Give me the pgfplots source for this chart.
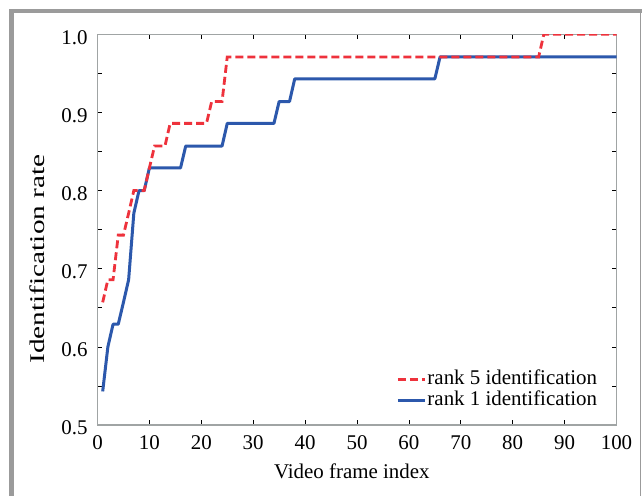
\documentclass[border=0pt]{standalone}
\usepackage{pgfplots}
\pgfplotsset{compat=1.18}
\usepackage{fontspec}
\setmainfont{Liberation Serif}
\definecolor{rred}{RGB}{238,50,60}
\definecolor{rblue}{RGB}{44,88,172}
\definecolor{axgray}{RGB}{160,164,164}
\definecolor{framegray}{RGB}{155,155,155}
\begin{document}
\begin{tikzpicture}[font=\fontsize{21}{24}\selectfont]
\path[use as bounding box] (-97.5bp,-71bp) rectangle (544.5bp,425bp);
\fill[white] (-97.5bp,-71bp) rectangle (544.5bp,425bp);
% frame
\fill[framegray] (-88.5bp,-71bp) rectangle (-83.5bp,415.7bp);
\fill[framegray] (-88.5bp,411.7bp) rectangle (544.5bp,415.7bp);
\fill[framegray] (542.4bp,-71bp) rectangle (543.9bp,415.7bp);
\begin{axis}[
  at={(0,0)}, anchor=south west,
  scale only axis,
  width=519bp, height=390.7bp,
  xmin=0, xmax=100, ymin=0.5, ymax=1.0,
  xtick={0,10,...,100},
  ytick={0.5,0.6,...,1.0},
  minor y tick num=1,
  tick align=inside,
  major tick length=5bp, minor tick length=5bp,
  every tick/.style={black, line width=0.7bp},
  axis line style={axgray, line width=1.2bp},
  /pgf/number format/assume math mode=true,
  yticklabel style={/pgf/number format/.cd, fixed, fixed zerofill, precision=1, /tikz/.cd, xshift=-6.5bp, yshift=-3bp},
  xticklabel style={yshift=-7bp},
  xlabel={Video frame index},
  ylabel={\scalebox{1.4}[1]{Identification rate}},
  xlabel style={at={(axis description cs:0.49,0)}, anchor=center, yshift=-46bp},
  ylabel style={at={(axis description cs:-0.1166,0.425)}, anchor=center},
  legend style={at={(axis cs:96.5,0.5)}, anchor=south east, yshift=13.5bp, draw=none, fill=none, inner sep=0pt,
    nodes={inner sep=1bp, text height=14bp, text depth=5bp}},
  legend cell align=left,
  reverse legend,
  legend image code/.code={\draw[#1] (0bp,0bp) -- (27bp,0bp);},
]
\addplot[rblue, line width=3bp, line join=round] coordinates {
(1,0.543) (2,0.600) (3,0.629) (4,0.629) (5,0.657) (6,0.686) (7,0.771) (8,0.800) (9,0.800)
(10,0.829) (16,0.829) (17,0.857) (24,0.857) (25,0.886) (34,0.886) (35,0.914) (37,0.914)
(38,0.943) (65,0.943) (66,0.971) (100,0.971)
};
\addlegendentry{rank 1 identification}
\addplot[rred, line width=2.8bp, dash pattern=on 8bp off 4bp] coordinates {
(1,0.657) (2,0.686) (3,0.686) (4,0.743) (5,0.743) (6,0.771) (7,0.800) (8,0.800) (9,0.800)
(10,0.829) (11,0.857) (13,0.857) (14,0.886) (21,0.886) (22,0.914) (24,0.914) (25,0.971)
(85,0.971) (86,1.000) (100,1.000)
};
\addlegendentry{rank 5 identification}
\end{axis}
\end{tikzpicture}
\end{document}
